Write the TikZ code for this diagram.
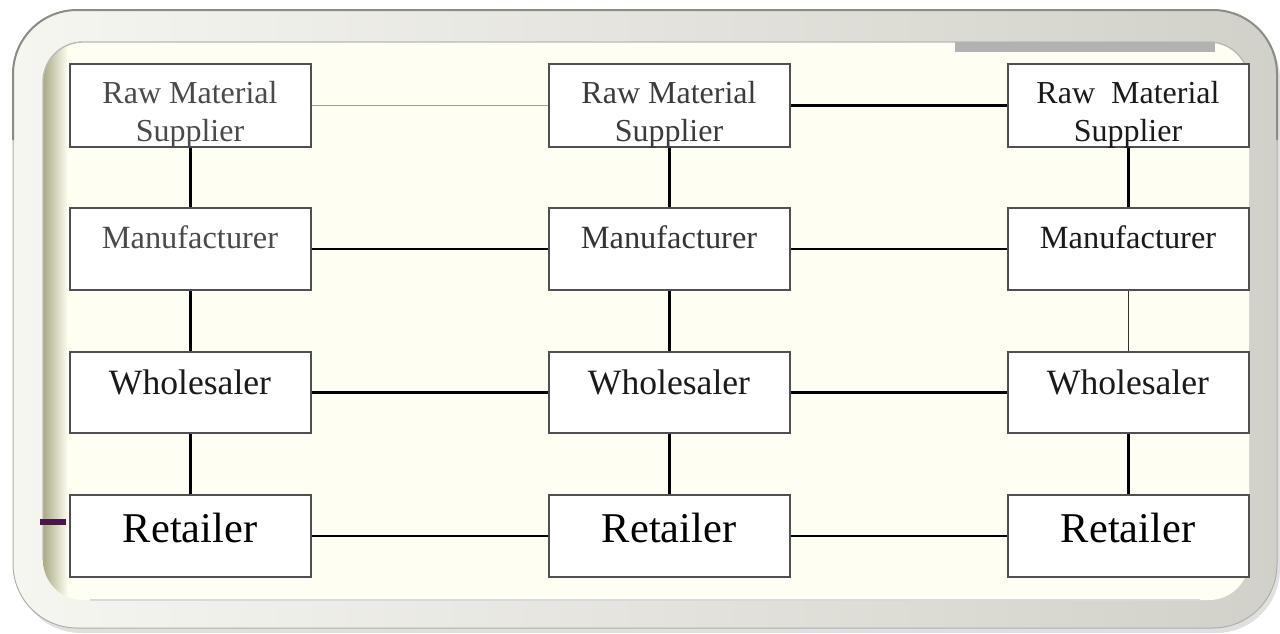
\documentclass[tikz,border=0pt]{standalone}
\usepackage{fontspec}
\setmainfont{Liberation Serif}
\definecolor{ringL}{HTML}{F6F6F1}
\definecolor{ringR}{HTML}{D2D1C9}
\definecolor{ringedge}{HTML}{8C8C86}
\definecolor{cream}{HTML}{FEFEF3}
\definecolor{olive}{HTML}{A9A982}
\definecolor{boxline}{HTML}{505050}
\definecolor{thinline}{HTML}{A0A08C}
\definecolor{txtgray}{HTML}{4A4A4A}
\definecolor{txtdark}{HTML}{1A1A1A}
\definecolor{plum}{HTML}{4A1848}
\definecolor{bargray}{HTML}{B2B2B0}
\tikzset{
  chainbox/.style={draw=boxline, line width=0.8pt, fill=white, rectangle, inner sep=0pt},
  lbl/.style={inner sep=0pt, align=center},
  link/.style={draw=black, line width=1.1pt},
  thinlink/.style={draw=thinline, line width=0.8pt},
}
\begin{document}
\begin{tikzpicture}[x=0.5pt,y=-0.5pt]
\useasboundingbox (0,0) rectangle (1280,633);
% outer frame with shadow
\fill[black!12, rounded corners=32pt] (17,15) rectangle (1280,633);
\shade[left color=ringL, right color=ringR, rounded corners=32pt] (13,10) rectangle (1277,628);
\draw[ringedge!70, line width=0.5pt, rounded corners=32pt] (13,10) rectangle (1277,628);
\draw[ringedge, line width=1pt, rounded corners=32pt] (13,140) -- (13,10) -- (1277,10) -- (1277,140);
% inner area
\fill[cream, rounded corners=20pt] (43,42) rectangle (1249,600);
\begin{scope}
\clip[rounded corners=20pt] (43,42) rectangle (1249,600);
\shade[left color=olive, right color=cream] (43,42) rectangle (68,600);
\end{scope}
\draw[ringedge!60, line width=0.7pt, rounded corners=20pt] (43,560) -- (43,42) -- (1249,42) -- (1249,80);
\draw[white!70!gray, line width=0.6pt] (90,600) -- (1200,600);
\fill[bargray] (955,42) rectangle (1215,52);
\fill[plum] (40,519) rectangle (66,525);

% boxes (x: 70-311, 549-790, 1008-1249)
\foreach \c/\xa/\xb in {1/70/311, 2/549/790, 3/1008/1249}{
  \node[chainbox] (r\c) at ({(\xa+\xb)/2},105.5) [minimum width={(\xb-\xa)*0.5pt}, minimum height=41.5pt] {};
  \node[chainbox] (m\c) at ({(\xa+\xb)/2},249) [minimum width={(\xb-\xa)*0.5pt}, minimum height=41pt] {};
  \node[chainbox] (w\c) at ({(\xa+\xb)/2},392.5) [minimum width={(\xb-\xa)*0.5pt}, minimum height=40.5pt] {};
  \node[chainbox] (t\c) at ({(\xa+\xb)/2},536) [minimum width={(\xb-\xa)*0.5pt}, minimum height=41pt] {};
}

% labels
\node[lbl, text=txtgray, font=\fontsize{16}{19}\selectfont] (lr1) at (190,115) {Raw Material\\Supplier};
\node[lbl, text=txtgray!80!black, font=\fontsize{16}{19}\selectfont] (lr2) at (669,115) {Raw Material\\Supplier};
\node[lbl, text=txtdark, font=\fontsize{16}{19}\selectfont] (lr3) at (1128,115) {Raw\ \ Material\\Supplier};
\node[lbl, text=txtgray, font=\fontsize{16.2}{19}\selectfont] (lm1) at (190,237) {Manufacturer};
\node[lbl, text=txtgray!70!black, font=\fontsize{16.2}{19}\selectfont] (lm2) at (669,237) {Manufacturer};
\node[lbl, text=txtdark, font=\fontsize{16.2}{19}\selectfont] (lm3) at (1128,237) {Manufacturer};
\node[lbl, text=txtdark, font=\fontsize{17.8}{21}\selectfont] (lw1) at (190,382) {Wholesaler};
\node[lbl, text=txtdark, font=\fontsize{17.8}{21}\selectfont] (lw2) at (669,382) {Wholesaler};
\node[lbl, text=txtdark, font=\fontsize{17.8}{21}\selectfont] (lw3) at (1128,382) {Wholesaler};
\node[lbl, text=black, font=\fontsize{21.2}{25}\selectfont] (lt1) at (190,528) {Retailer};
\node[lbl, text=black, font=\fontsize{21.2}{25}\selectfont] (lt2) at (669,528) {Retailer};
\node[lbl, text=black, font=\fontsize{21.2}{25}\selectfont] (lt3) at (1128,528) {Retailer};

% horizontal connectors
\draw[thinlink] (r1.east) -- (r2.west);
\draw[link] (r2.east) -- (r3.west);
\foreach \r in {m,w,t}{
  \draw[link] (\r1.east) -- (\r2.west);
  \draw[link] (\r2.east) -- (\r3.west);
}
% vertical connectors
\foreach \c in {1,2,3}{
  \draw[link] (r\c.south) -- (m\c.north);
  \draw[link] (w\c.south) -- (t\c.north);
}
\draw[link] (m1.south) -- (w1.north);
\draw[link] (m2.south) -- (w2.north);
\draw[draw=black!80, line width=0.6pt] (m3.south) -- (w3.north);
\end{tikzpicture}
\end{document}
